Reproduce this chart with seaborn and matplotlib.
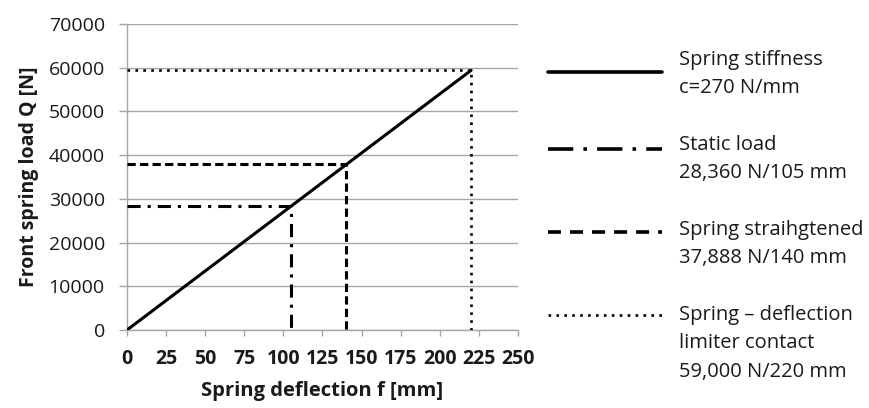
import matplotlib
matplotlib.use("Agg")
import matplotlib.pyplot as plt
import seaborn as sns
import pandas as pd
from matplotlib.lines import Line2D

# ---- data ----
stiff_x = [0, 220]
stiff_y = [0, 59400]
static_x, static_y = 105, 28360
straight_x, straight_y = 140, 37888
limit_x, limit_y = 220, 59500

x_ticks = [0, 25, 50, 75, 100, 125, 150, 175, 200, 225, 250]
y_ticks = [0, 10000, 20000, 30000, 40000, 50000, 60000, 70000]

legend_labels = [
    ["Spring stiffness", "c=270 N/mm"],
    ["Static load", "28,360 N/105 mm"],
    ["Spring straihgtened", "37,888 N/140 mm"],
    ["Spring \u2013 deflection", "limiter contact", "59,000 N/220 mm"],
]

sns.set_theme(style="white")
plt.rcParams["font.family"] = ["Open Sans", "DejaVu Sans"]

W, H = 870, 408
fig = plt.figure(figsize=(8.7, 4.08), dpi=100)
ax = fig.add_axes([127 / W, 1 - 330 / H, (518 - 127) / W, (330 - 24) / H])

grid_c = "#a6a6a6"
txt_c = "#1a1a1a"
lw = 2.2
dashdot = (0, (4.3, 2.3, 1.0, 2.3))
dashed = (0, (2.7, 1.4))
dotted = (0, (1.0, 2.0))
dot_lw = 1.9

df = pd.DataFrame({"f": stiff_x, "Q": stiff_y})
sns.lineplot(data=df, x="f", y="Q", ax=ax, color="black", lw=lw, zorder=5,
             estimator=None, sort=False)

def guide(xv, yv, ls, w):
    d = pd.DataFrame({"f": [0, xv, xv], "Q": [yv, yv, 0]})
    sns.lineplot(data=d, x="f", y="Q", ax=ax, color="black", lw=w, linestyle=ls,
                 zorder=4, estimator=None, sort=False)

guide(static_x, static_y, dashdot, lw)
guide(straight_x, straight_y, dashed, lw)
guide(limit_x, limit_y, dotted, dot_lw)

ax.set_xlim(0, 250)
ax.set_ylim(0, 70000)
ax.set_xticks(x_ticks)
ax.set_yticks(y_ticks)
ax.set_xticklabels([str(v) for v in x_ticks], fontweight="bold", fontsize=14, color=txt_c)
ax.set_yticklabels([str(v) for v in y_ticks], fontsize=14, color=txt_c)
ax.yaxis.grid(True, color=grid_c, lw=1)
ax.xaxis.grid(False)
for s in ["top", "right"]:
    ax.spines[s].set_visible(False)
for s in ["left", "bottom"]:
    ax.spines[s].set_color(grid_c)
    ax.spines[s].set_linewidth(1)
ax.tick_params(axis="x", which="major", direction="out", length=4.5, width=1, color=grid_c, pad=9, bottom=True)
ax.tick_params(axis="y", which="major", direction="out", length=6, width=1, color=grid_c, pad=10, left=True)
ax.set_xlabel("Spring deflection f [mm]", fontweight="bold", fontsize=14.5, color=txt_c, labelpad=9)
ax.set_ylabel("Front spring load Q [N]", fontweight="bold", fontsize=14, color=txt_c, labelpad=7)

# ---- legend (manual) ----
leg_lw = 2.6
styles = [("-", leg_lw), ((0, (7.0, 2.8, 1.0, 2.8)), leg_lw), ((0, (3.6, 2.5)), leg_lw), (dotted, dot_lw)]
handle_y = [72, 149, 232, 315]
first_baseline = [65, 150, 235, 320]
line_step = 28.3
for (ls, w), hy, by, lines in zip(styles, handle_y, first_baseline, legend_labels):
    fy = 1 - hy / H
    fig.add_artist(Line2D([548 / W, 662 / W], [fy, fy], color="black", lw=w, linestyle=ls))
    for i, t in enumerate(lines):
        fig.text(679 / W, 1 - (by + i * line_step) / H, t, fontsize=14.5, color=txt_c,
                 va="baseline", ha="left")

fig.savefig("out.png", dpi=100)
